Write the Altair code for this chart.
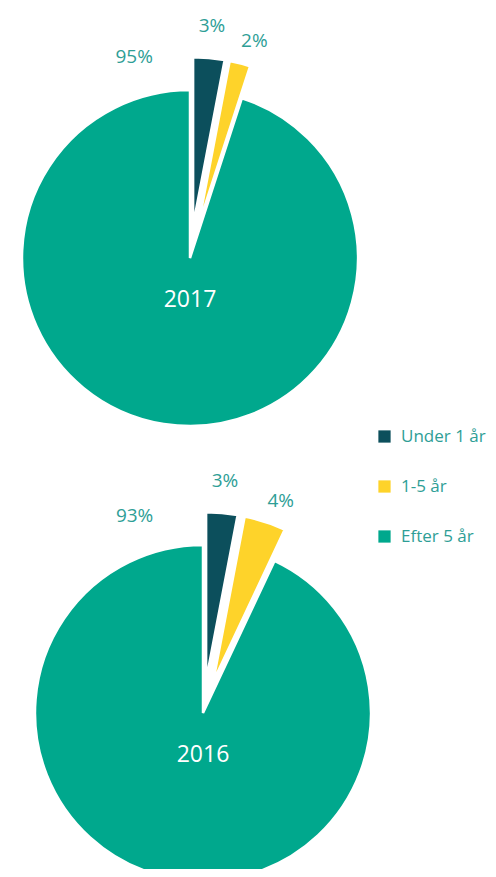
import math
import altair as alt
import pandas as pd

years = ["2017", "2016"]
categories = ["Under 1 år", "1-5 år", "Efter 5 år"]
values_2017 = [3, 2, 95]
values_2016 = [3, 4, 93]
colors = ["#0c4f5c", "#fed32a", "#00a88d"]
exploded = [True, True, False]

# layout (style, not data)
centers = {"2017": (182, 250), "2016": (195, 705)}
R = 168
EXPLODE = 33
text_color = "#2e9e96"
font = "Open Sans"

rows = []
labels = []
for year, vals in zip(years, [values_2017, values_2016]):
    cx0, cy0 = centers[year]
    total = sum(vals)
    acc = 0
    for i, (cat, v, ex) in enumerate(zip(categories, vals, exploded)):
        t0 = acc / total * 2 * math.pi
        acc += v
        t1 = acc / total * 2 * math.pi
        mid = (t0 + t1) / 2
        d = EXPLODE if ex else 0
        cx = cx0 + d * math.sin(mid)
        cy = cy0 - d * math.cos(mid)
        rows.append(dict(year=year, cat=cat, value=v, t0=t0, t1=t1, cx=cx, cy=cy))
        if ex:
            if i == 1:
                lr = 193
                la = mid + math.radians(2.5)
            else:
                lr = 200
                la = mid
        else:
            lr = 209
            la = t1 - math.radians(6.5) - t0 / 2
        labels.append(dict(txt=f"{v}%", lx=cx + lr * math.sin(la), ly=cy - lr * math.cos(la)))

df = pd.DataFrame(rows)
df_lab = pd.DataFrame(labels)
df_year = pd.DataFrame(
    [dict(txt=y, lx=centers[y][0], ly=centers[y][1] + 42) for y in years]
)

arcs = alt.Chart(df).mark_arc(outerRadius=R, stroke="white", strokeWidth=2.5).encode(
    x=alt.X("cx:Q", scale=None, axis=None),
    y=alt.Y("cy:Q", scale=None, axis=None),
    theta=alt.Theta("t0:Q", scale=None),
    theta2="t1:Q",
    color=alt.Color(
        "cat:N",
        scale=alt.Scale(domain=categories, range=colors),
        sort=categories,
        legend=alt.Legend(
            title=None,
            orient="none",
            legendX=368,
            legendY=420,
            symbolType="square",
            symbolSize=150,
            symbolStrokeWidth=0,
            labelFontSize=17,
            labelFont=font,
            labelColor=text_color,
            rowPadding=32,
            labelOffset=8,
            labelLimit=200,
        ),
    ),
)

pct = alt.Chart(df_lab).mark_text(
    font=font, fontSize=19, color=text_color, align="center", baseline="middle"
).encode(
    x=alt.X("lx:Q", scale=None, axis=None),
    y=alt.Y("ly:Q", scale=None, axis=None),
    text="txt:N",
)

yr = alt.Chart(df_year).mark_text(
    font=font, fontSize=23, color="white", align="center", baseline="middle"
).encode(
    x=alt.X("lx:Q", scale=None, axis=None),
    y=alt.Y("ly:Q", scale=None, axis=None),
    text="txt:N",
)

chart = (
    alt.layer(arcs, pct, yr)
    .properties(
        width=480,
        height=861,
        autosize=alt.AutoSizeParams(type="none"),
        padding=0,
    )
    .configure_view(stroke=None)
)

chart.save("out.html", embed_options={"renderer": "svg", "actions": False})
